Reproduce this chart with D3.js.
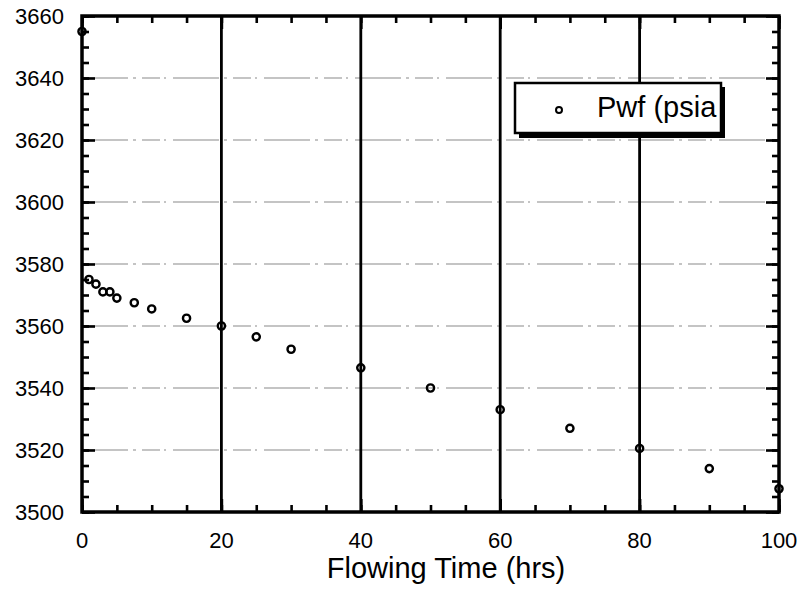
<!DOCTYPE html>
<html>
<head>
<meta charset="utf-8">
<script src="https://cdn.jsdelivr.net/npm/d3@7"></script>
<style>
    body { margin: 0; background: #fff; }
    text { font-family: "Liberation Sans", Arial, sans-serif; fill: #000; }
    .axis path { display: none; }
    .axis line { stroke: #000; stroke-width: 2.6px; }
</style>
</head>
<body>
<svg id="chart"></svg>
<script>
// flowing time (hrs) and flowing bottomhole pressure (psia)
const times = [0, 1, 2, 3, 4, 5, 7.5, 10, 15, 20, 25, 30, 40, 50, 60, 70, 80, 90, 100];
const pwf = [3655, 3575, 3573.5, 3571, 3571, 3569, 3567.5, 3565.5, 3562.5, 3560, 3556.5, 3552.5, 3546.5, 3540, 3533, 3527, 3520.5, 3514, 3507.5];

const xTicks = [0, 20, 40, 60, 80, 100];
const yTicks = [3500, 3520, 3540, 3560, 3580, 3600, 3620, 3640, 3660];
const xGrid = [20, 40, 60, 80];
const legendLabel = "Pwf (psia";
const xLabel = "Flowing Time (hrs)";

class PwfScatter {

    constructor(config) {
        this.config = config;
        this.init();
    }

    init() {
        let self = this;
        let m = self.config.margin;

        self.svg = d3.select(self.config.parent)
            .attr("width", self.config.width)
            .attr("height", self.config.height);

        self.inner_width = self.config.width - m.left - m.right;
        self.inner_height = self.config.height - m.top - m.bottom;

        self.xScale = d3.scaleLinear().domain([0, 100]).range([m.left, m.left + self.inner_width]);
        self.yScale = d3.scaleLinear().domain([3500, 3660]).range([m.top + self.inner_height, m.top]);

        self.dataset = times.map((t, i) => ({ t: t, p: pwf[i] }));
        self.render();
    }

    // inward ticks on one side: major + minor, no labels
    ticks(axisFn, scale, major, minor, transform) {
        let self = this;
        self.svg.append("g")
            .attr("class", "axis")
            .attr("transform", transform)
            .call(axisFn(scale).tickValues(minor).tickSize(-7).tickFormat(""));
        self.svg.append("g")
            .attr("class", "axis")
            .attr("transform", transform)
            .call(axisFn(scale).tickValues(major).tickSize(-13).tickFormat(""));
    }

    render() {
        let self = this;
        let x = self.xScale, y = self.yScale;
        let [x0, x1] = x.range();
        let [y0, y1] = y.range();

        // horizontal grid (light, broken like the scan)
        self.svg.append("g")
            .selectAll("line").data(yTicks.slice(1, -1))
            .enter().append("line")
            .attr("x1", x0).attr("x2", x1)
            .attr("y1", d => y(d)).attr("y2", d => y(d))
            .attr("stroke", "#8a8a8a")
            .attr("stroke-width", 1.2)
            .attr("stroke-dasharray", "46 5 3 6 18 4 2 7");

        // vertical grid (solid black)
        self.svg.append("g")
            .selectAll("line").data(xGrid)
            .enter().append("line")
            .attr("x1", d => x(d)).attr("x2", d => x(d))
            .attr("y1", y0).attr("y2", y1)
            .attr("stroke", "#000")
            .attr("stroke-width", 2.8);

        // ticks pointing inward on all four sides
        let xMinor = d3.range(0, 101, 5);
        let yMinor = d3.range(3500, 3661, 5);
        self.ticks(d3.axisBottom, x, xTicks, xMinor, `translate(0, ${y0})`);
        self.ticks(d3.axisTop, x, xTicks, xMinor, `translate(0, ${y1})`);
        self.ticks(d3.axisLeft, y, yTicks, yMinor, `translate(${x0}, 0)`);
        self.ticks(d3.axisRight, y, yTicks, yMinor, `translate(${x1}, 0)`);

        // frame
        self.svg.append("rect")
            .attr("x", x0).attr("y", y1)
            .attr("width", x1 - x0).attr("height", y0 - y1)
            .attr("fill", "none")
            .attr("stroke", "#000")
            .attr("stroke-width", 3.5);

        // tick labels
        self.svg.append("g")
            .selectAll("text").data(xTicks)
            .enter().append("text")
            .attr("x", d => x(d))
            .attr("y", y0 + 36)
            .attr("text-anchor", "middle")
            .attr("font-size", "22px")
            .text(d => d);

        self.svg.append("g")
            .selectAll("text").data(yTicks)
            .enter().append("text")
            .attr("x", x0 - 18)
            .attr("y", d => y(d) + 8)
            .attr("text-anchor", "end")
            .attr("font-size", "22px")
            .text(d => d);

        // x label
        self.svg.append("text")
            .attr("x", 446)
            .attr("y", 578)
            .attr("text-anchor", "middle")
            .attr("font-size", "29px")
            .text(xLabel);

        // points
        self.svg.append("g")
            .selectAll("circle").data(self.dataset)
            .enter().append("circle")
            .attr("cx", d => x(d.t))
            .attr("cy", d => y(d.p))
            .attr("r", 3.6)
            .attr("fill", "none")
            .attr("stroke", "#000")
            .attr("stroke-width", 2.4);

        // legend with drop shadow
        let lg = self.svg.append("g").attr("transform", "translate(515, 83)");
        lg.append("rect")
            .attr("x", 4).attr("y", 4)
            .attr("width", 206).attr("height", 51)
            .attr("fill", "#000");
        lg.append("rect")
            .attr("x", 0).attr("y", 0)
            .attr("width", 206).attr("height", 50)
            .attr("fill", "#fff")
            .attr("stroke", "#000")
            .attr("stroke-width", 2.5);
        lg.append("circle")
            .attr("cx", 44).attr("cy", 27)
            .attr("r", 3)
            .attr("fill", "none")
            .attr("stroke", "#000")
            .attr("stroke-width", 2);
        lg.append("text")
            .attr("x", 82).attr("y", 34)
            .attr("font-size", "29px")
            .text(legendLabel);
    }
}

new PwfScatter({
    parent: "#chart",
    width: 801,
    height: 590,
    margin: { top: 16, right: 22, bottom: 78, left: 82 }
});
</script>
</body>
</html>
